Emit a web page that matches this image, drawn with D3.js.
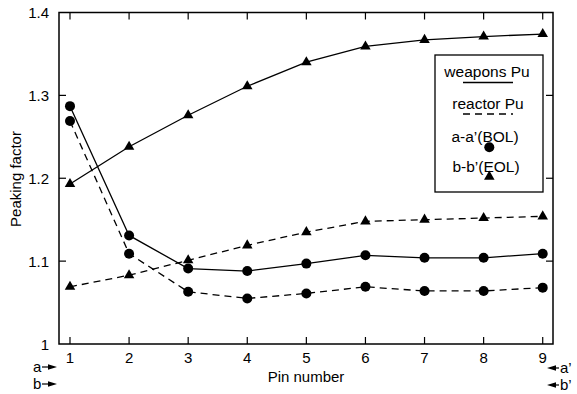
<!DOCTYPE html>
<html>
<head>
<meta charset="utf-8">
<script src="https://cdn.jsdelivr.net/npm/d3@7"></script>
<style>
  html, body { margin: 0; padding: 0; background: #fff; }
  svg { display: block; }
  text { font-family: "Liberation Sans", Arial, Helvetica, sans-serif; fill: #000; }
</style>
</head>
<body>
<svg id="chart" width="577" height="394"></svg>
<script>
// ---- data ----
const pins = [1, 2, 3, 4, 5, 6, 7, 8, 9];
const weaponsBOL = [1.287, 1.131, 1.091, 1.088, 1.097, 1.107, 1.104, 1.104, 1.109];
const reactorBOL = [1.269, 1.109, 1.063, 1.055, 1.061, 1.069, 1.064, 1.064, 1.068];
const weaponsEOL = [1.193, 1.238, 1.276, 1.311, 1.340, 1.359, 1.367, 1.371, 1.374];
const reactorEOL = [1.069, 1.083, 1.101, 1.119, 1.135, 1.148, 1.150, 1.152, 1.154];
const yTicks = [1, 1.1, 1.2, 1.3, 1.4];
const yTickLabels = ["1", "1.1", "1.2", "1.3", "1.4"];
const xTicks = pins;
const legendLabels = ["weapons Pu", "reactor Pu", "a-a\u2019(BOL)", "b-b\u2019(EOL)"];

const svg = d3.select("#chart");
const L = 59, R = 553, T = 12.5, B = 344;
const x = d3.scaleLinear().domain([0.814, 9.174]).range([L, R]);
const y = d3.scaleLinear().domain([1, 1.4]).range([B, T]);

// frame
svg.append("rect").attr("x", L).attr("y", T).attr("width", R - L).attr("height", B - T)
  .attr("fill", "none").attr("stroke", "#000").attr("stroke-width", 1.5);

// ticks (inward, all four sides)
const tl = 7;
const tg = svg.append("g").attr("stroke", "#000").attr("stroke-width", 1.2);
xTicks.forEach(v => {
  tg.append("line").attr("x1", x(v)).attr("x2", x(v)).attr("y1", B).attr("y2", B - tl);
  tg.append("line").attr("x1", x(v)).attr("x2", x(v)).attr("y1", T).attr("y2", T + tl);
});
yTicks.filter(v => v > 1 && v < 1.4).forEach(v => {
  tg.append("line").attr("x1", L).attr("x2", L + tl).attr("y1", y(v)).attr("y2", y(v));
  tg.append("line").attr("x1", R).attr("x2", R - tl).attr("y1", y(v)).attr("y2", y(v));
});

// tick labels
svg.append("g").selectAll("text").data(xTicks).join("text")
  .attr("x", d => x(d)).attr("y", 363).attr("text-anchor", "middle")
  .attr("font-size", 15).text(d => d);
svg.append("g").selectAll("text").data(yTicks).join("text")
  .attr("x", 49).attr("y", d => y(d) + 5.5).attr("text-anchor", "end")
  .attr("font-size", 15).text((d, i) => yTickLabels[i]);

// axis titles
svg.append("text").attr("x", 306).attr("y", 382).attr("text-anchor", "middle")
  .attr("font-size", 15).text("Pin number");
svg.append("text").attr("transform", "translate(21,179) rotate(-90)")
  .attr("text-anchor", "middle").attr("font-size", 15).text("Peaking factor");

// side arrows
function arrow(x1, x2, yy) {
  const dir = Math.sign(x2 - x1);
  svg.append("line").attr("x1", x1).attr("x2", x2 - dir * 6).attr("y1", yy).attr("y2", yy)
    .attr("stroke", "#000").attr("stroke-width", 1.2);
  svg.append("path").attr("d", `M${x2},${yy} L${x2 - dir * 9},${yy - 2.8} L${x2 - dir * 9},${yy + 2.8} Z`)
    .attr("fill", "#000");
}
svg.append("text").attr("x", 33).attr("y", 372).attr("font-size", 15).text("a");
arrow(42, 57, 367);
svg.append("text").attr("x", 33).attr("y", 389).attr("font-size", 15).text("b");
arrow(42, 57, 384);
svg.append("text").attr("x", 560).attr("y", 373).attr("font-size", 15).text("a\u2019");
arrow(559, 547, 368);
svg.append("text").attr("x", 560).attr("y", 390).attr("font-size", 15).text("b\u2019");
arrow(559, 547, 385);

// series
const series = [
  { vals: weaponsEOL, dash: null, sym: "tri" },
  { vals: reactorEOL, dash: "7,5", sym: "tri" },
  { vals: weaponsBOL, dash: null, sym: "circ" },
  { vals: reactorBOL, dash: "7,5", sym: "circ" }
];
const line = d3.line().x((d, i) => x(pins[i])).y(d => y(d));
const triSym = d3.symbol().type(d3.symbolTriangle).size(48);
series.forEach(s => {
  svg.append("path").attr("d", line(s.vals)).attr("fill", "none")
    .attr("stroke", "#000").attr("stroke-width", 1.3)
    .attr("stroke-dasharray", s.dash);
  const g = svg.append("g");
  if (s.sym === "circ") {
    g.selectAll("circle").data(s.vals).join("circle")
      .attr("cx", (d, i) => x(pins[i])).attr("cy", d => y(d)).attr("r", 5).attr("fill", "#000");
  } else {
    g.selectAll("path").data(s.vals).join("path")
      .attr("transform", (d, i) => `translate(${x(pins[i])},${y(d)})`)
      .attr("d", triSym).attr("fill", "#000");
  }
});

// legend
const lg = svg.append("g");
lg.append("rect").attr("x", 435).attr("y", 55).attr("width", 108).attr("height", 137)
  .attr("fill", "#fff").attr("stroke", "#000").attr("stroke-width", 1.3);
const lx = 487;
lg.append("text").attr("x", lx).attr("y", 77).attr("text-anchor", "middle").attr("font-size", 15.5).text(legendLabels[0]);
lg.append("line").attr("x1", 463).attr("x2", 513).attr("y1", 82.5).attr("y2", 82.5).attr("stroke", "#000").attr("stroke-width", 1.3);
lg.append("text").attr("x", lx + 1).attr("y", 108.5).attr("text-anchor", "middle").attr("font-size", 15.5).text(legendLabels[1]);
lg.append("line").attr("x1", 463).attr("x2", 513).attr("y1", 114).attr("y2", 114).attr("stroke", "#000").attr("stroke-width", 1.3).attr("stroke-dasharray", "7,5");
lg.append("text").attr("x", lx - 2).attr("y", 142).attr("text-anchor", "middle").attr("font-size", 15.5).text(legendLabels[2]);
lg.append("circle").attr("cx", 489.3).attr("cy", 147.3).attr("r", 5).attr("fill", "#000");
lg.append("text").attr("x", lx - 1).attr("y", 172).attr("text-anchor", "middle").attr("font-size", 15.5).text(legendLabels[3]);
lg.append("path").attr("transform", "translate(489.3,176.7)").attr("d", triSym).attr("fill", "#000");
</script>
</body>
</html>
